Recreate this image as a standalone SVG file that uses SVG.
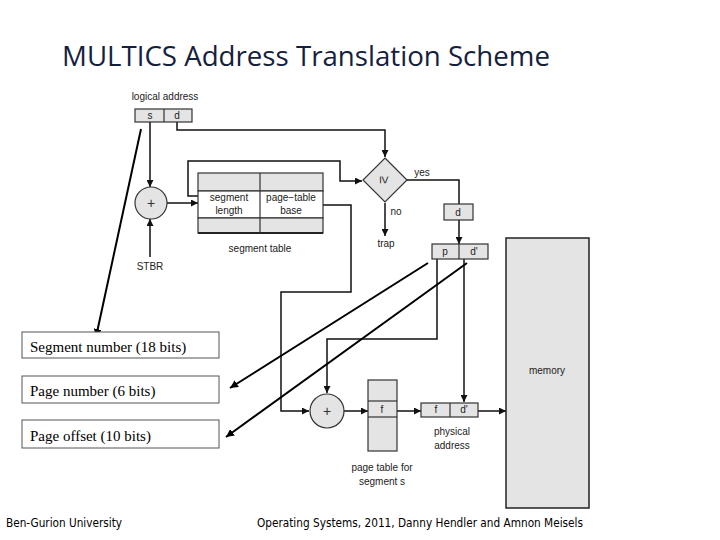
<svg xmlns="http://www.w3.org/2000/svg" width="720" height="540" viewBox="0 0 720 540">
<defs>
<marker id="ah" viewBox="0 0 10 10" refX="10" refY="5" markerWidth="7" markerHeight="7" markerUnits="userSpaceOnUse" orient="auto">
<path d="M0,0 L10,5 L0,10 z" fill="#111"/>
</marker>
<marker id="ah2" viewBox="0 0 10 10" refX="10" refY="5" markerWidth="8" markerHeight="8" markerUnits="userSpaceOnUse" orient="auto">
<path d="M0,0 L10,5 L0,10 z" fill="#000"/>
</marker>
</defs>
<style>
.g{fill:#e4e4e4;stroke:#333;stroke-width:1.2}
.w{fill:#fff;stroke:#333;stroke-width:1.2}
.t{font-family:"Liberation Sans",Arial,sans-serif;font-size:10px;fill:#222;text-anchor:middle}
.pl{font-family:"Liberation Sans",Arial,sans-serif;font-size:14px;fill:#333;text-anchor:middle}
.ln{fill:none;stroke:#111;stroke-width:1.5}
.dg{fill:none;stroke:#000;stroke-width:2}
.lb{fill:#fff;stroke:#555;stroke-width:1}
.st{font-family:"Liberation Serif","Times New Roman",serif;font-size:15px;fill:#000}
.ft{font-family:"DejaVu Sans",Tahoma,sans-serif;font-size:11.5px;fill:#000}
</style>
<rect width="720" height="540" fill="#fff"/>
<text x="62" y="66" font-family="Open Sans,Liberation Sans,sans-serif" font-size="27" fill="#14213d" textLength="488" lengthAdjust="spacingAndGlyphs">MULTICS Address Translation Scheme</text>

<g id="connectors">
<polyline class="ln" points="177,122 177,130 385,130 385,157" marker-end="url(#ah)"/>
<line class="ln" x1="150" y1="122" x2="150" y2="187" marker-end="url(#ah)"/>
<line class="ln" x1="150" y1="257" x2="150" y2="219" marker-end="url(#ah)"/>
<line class="ln" x1="167" y1="203" x2="198" y2="203" marker-end="url(#ah)"/>
<polyline class="ln" points="198,196 188,196 188,161 340,161 340,181 362,181" marker-end="url(#ah)"/>
<polyline class="ln" points="407,180 459,180 459,204"/>
<line class="ln" x1="385" y1="203" x2="385" y2="236" marker-end="url(#ah)"/>
<line class="ln" x1="459" y1="220" x2="459" y2="244" marker-end="url(#ah)"/>
<polyline class="ln" points="323,205 351,205 351,292 281,292 281,411 309,411" marker-end="url(#ah)"/>
<polyline class="ln" points="437,259 437,339 327,339 327,393" marker-end="url(#ah)"/>
<line class="ln" x1="464" y1="259" x2="464" y2="402" marker-end="url(#ah)"/>
<line class="ln" x1="344" y1="411" x2="368" y2="411" marker-end="url(#ah)"/>
<line class="ln" x1="397" y1="411" x2="421" y2="411" marker-end="url(#ah)"/>
<line class="ln" x1="478" y1="411" x2="506" y2="411" marker-end="url(#ah)"/>
<line class="dg" x1="141" y1="129" x2="96" y2="337" marker-end="url(#ah2)"/>
<line class="dg" x1="428" y1="263" x2="230" y2="388" marker-end="url(#ah2)"/>
<line class="dg" x1="467" y1="263" x2="226" y2="437" marker-end="url(#ah2)"/>
</g>

<g id="logical-address">
<text class="t" x="165" y="100">logical address</text>
<rect class="g" x="135" y="109" width="57" height="13"/>
<line x1="164" y1="109" x2="164" y2="122" stroke="#333" stroke-width="1.2"/>
<text class="t" x="150" y="119">s</text>
<text class="t" x="177" y="119">d</text>
</g>

<g id="adder1">
<circle class="g" cx="151" cy="203" r="16"/>
<text class="pl" x="151" y="208">+</text>
</g>
<g id="stbr"><text class="t" x="150" y="270">STBR</text></g>

<g id="segment-table">
<rect class="g" x="198" y="173" width="125" height="18"/>
<rect class="w" x="198" y="191" width="125" height="27"/>
<rect class="g" x="198" y="218" width="125" height="15"/>
<line x1="198" y1="233" x2="323" y2="233" stroke="#222" stroke-width="2"/>
<line x1="260" y1="173" x2="260" y2="233" stroke="#333" stroke-width="1.2"/>
<text class="t" x="229" y="201">segment</text>
<text class="t" x="229" y="214">length</text>
<text class="t" x="291" y="201">page−table</text>
<text class="t" x="291" y="214">base</text>
<text class="t" x="260" y="252">segment table</text>
</g>

<g id="compare">
<polygon class="g" points="385,158 407,180 385,202 363,180"/>
<text class="pl" x="385" y="180" transform="rotate(90 385 180)" dy="5">≥</text>
<text class="t" x="422" y="176">yes</text>
<text class="t" x="396" y="215">no</text>
<text class="t" x="386" y="247">trap</text>
</g>

<g id="d-box">
<rect class="g" x="444" y="204" width="29" height="16"/>
<text class="t" x="458" y="216">d</text>
</g>

<g id="pd-box">
<rect class="g" x="432" y="244" width="56" height="15"/>
<line x1="459" y1="244" x2="459" y2="259" stroke="#333" stroke-width="1.2"/>
<text class="t" x="445" y="255">p</text>
<text class="t" x="474" y="255">d'</text>
</g>

<g id="adder2">
<circle class="g" cx="327" cy="411" r="17"/>
<text class="pl" x="327" y="416">+</text>
</g>

<g id="page-table">
<rect class="g" x="368" y="380" width="29" height="71"/>
<line x1="368" y1="401" x2="397" y2="401" stroke="#333" stroke-width="1.2"/>
<line x1="368" y1="417" x2="397" y2="417" stroke="#333" stroke-width="1.2"/>
<text class="t" x="382" y="413">f</text>
<text class="t" x="382" y="471">page table for</text>
<text class="t" x="382" y="485">segment s</text>
</g>

<g id="physical-address">
<rect class="g" x="421" y="403" width="57" height="14"/>
<line x1="450" y1="403" x2="450" y2="417" stroke="#333" stroke-width="1.2"/>
<text class="t" x="436" y="413">f</text>
<text class="t" x="464" y="413">d'</text>
<text class="t" x="452" y="435">physical</text>
<text class="t" x="452" y="449">address</text>
</g>

<g id="memory">
<rect x="506" y="238" width="83" height="270" fill="#e4e4e4" stroke="#222" stroke-width="1.5"/>
<text class="t" x="547" y="374">memory</text>
</g>

<g id="label-segment">
<rect class="lb" x="22" y="332" width="197" height="26"/>
<text class="st" x="30" y="352">Segment number (18 bits)</text>
</g>
<g id="label-page">
<rect class="lb" x="22" y="376" width="197" height="27"/>
<text class="st" x="30" y="396">Page number (6 bits)</text>
</g>
<g id="label-offset">
<rect class="lb" x="22" y="420" width="197" height="28"/>
<text class="st" x="30" y="441">Page offset (10 bits)</text>
</g>

<text class="ft" x="6" y="527" textLength="116" lengthAdjust="spacingAndGlyphs">Ben-Gurion University</text>
<text class="ft" x="257" y="527" textLength="326" lengthAdjust="spacingAndGlyphs">Operating Systems, 2011, Danny Hendler and Amnon Meisels</text>
</svg>
